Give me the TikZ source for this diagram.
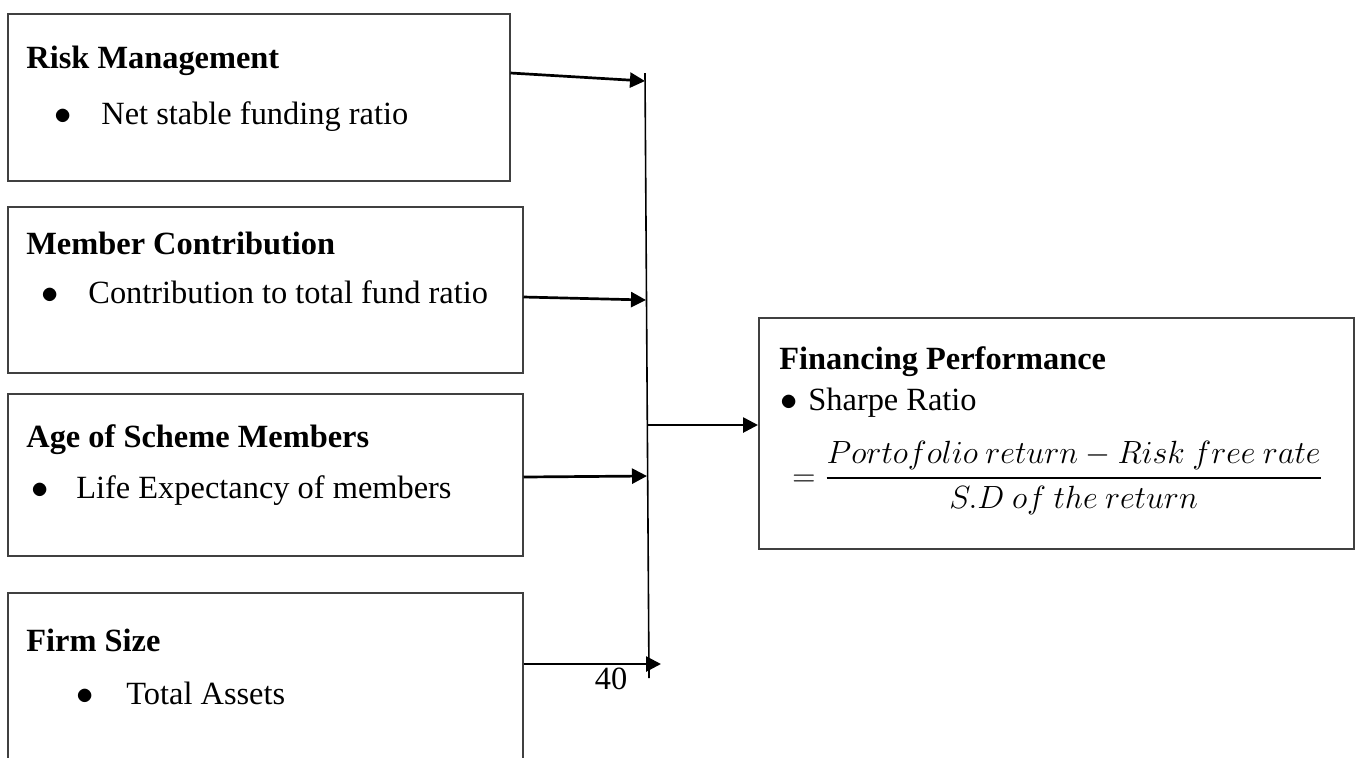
\documentclass[tikz,border=0pt]{standalone}
\usepackage{amsmath}
\usepackage{fontspec}
\setmainfont{Liberation Serif}
\usetikzlibrary{arrows.meta, positioning, calc}

\begin{document}
\begin{tikzpicture}[
    x=0.5pt, y=-0.5pt,
    box/.style={draw=black!75, line width=0.75pt, anchor=north west, inner sep=0pt},
    head/.style={anchor=west, inner sep=0pt, font=\fontsize{16.2}{19}\selectfont\bfseries},
    item/.style={anchor=west, inner sep=0pt, font=\fontsize{16.2}{19}\selectfont},
    arrow/.style={-{Triangle[length=7.5pt, width=7.5pt]}, line width=1.35pt},
    bus/.style={line width=0.8pt}
]
\useasboundingbox (0,0) rectangle (1361,757);
\node[box, minimum width=251pt, minimum height=83.5pt] (risk) at (7,13) {};
\node[box, minimum width=257.5pt, minimum height=83pt] (member) at (7,206) {};
\node[box, minimum width=257.5pt, minimum height=81pt] (age) at (7,393) {};
\node[box, minimum width=257.5pt, minimum height=85pt] (firm) at (7,592) {};
\node[box, minimum width=297.5pt, minimum height=115.5pt] (perf) at (758,317) {};
\node[head] (riskhead) at (26,61) {Risk Management};
\node[item] (riskitem) at (54,117) {\makebox[23.5pt][l]{$\bullet$}Net stable funding ratio};
\node[head] (memberhead) at (26,243) {Member Contribution};
\node[item] (memberitem) at (41,292) {\makebox[23.5pt][l]{$\bullet$}Contribution to total fund ratio};
\node[head] (agehead) at (26,440) {Age of Scheme Members};
\node[item] (ageitem) at (31,491) {\makebox[22.5pt][l]{$\bullet$}Life Expectancy of members};
\node[head] (firmhead) at (26,640) {Firm Size};
\node[item] (firmitem) at (76,693) {\makebox[25pt][l]{$\bullet$}Total Assets};
\node[head] (perfhead) at (779,362) {Financing Performance};
\node[item] (perfitem) at (780,403) {\makebox[14pt][l]{$\bullet$}Sharpe Ratio};
\node[item] (sharpe) at (792,478) {\scalebox{0.93}{$=\genfrac{}{}{1.3pt}{0}{Portofolio\ return-Risk\ free\ rate}{S.D\ of\ the\ return}$}};
\node[item, anchor=center] (pagenum) at (611,679) {40};
\coordinate (bustop) at (645,73);
\coordinate (busbot) at (649,678);
\coordinate (j1) at (645,81);
\coordinate (j2) at (646,300);
\coordinate (j3) at (647,476);
\coordinate (j4) at (661,664);
\coordinate (j0) at (647,425);
\draw[bus] (bustop) -- (busbot);
\draw[arrow] ([yshift=-30pt]risk.north east) -- (j1);
\draw[arrow] ([yshift=-45.5pt]member.north east) -- (j2);
\draw[arrow] ([yshift=-42pt]age.north east) -- (j3);
\draw[arrow] ([yshift=-36pt]firm.north east) -- (j4);
\draw[arrow] (j0) -- (perf.west |- j0);
\end{tikzpicture}
\end{document}
